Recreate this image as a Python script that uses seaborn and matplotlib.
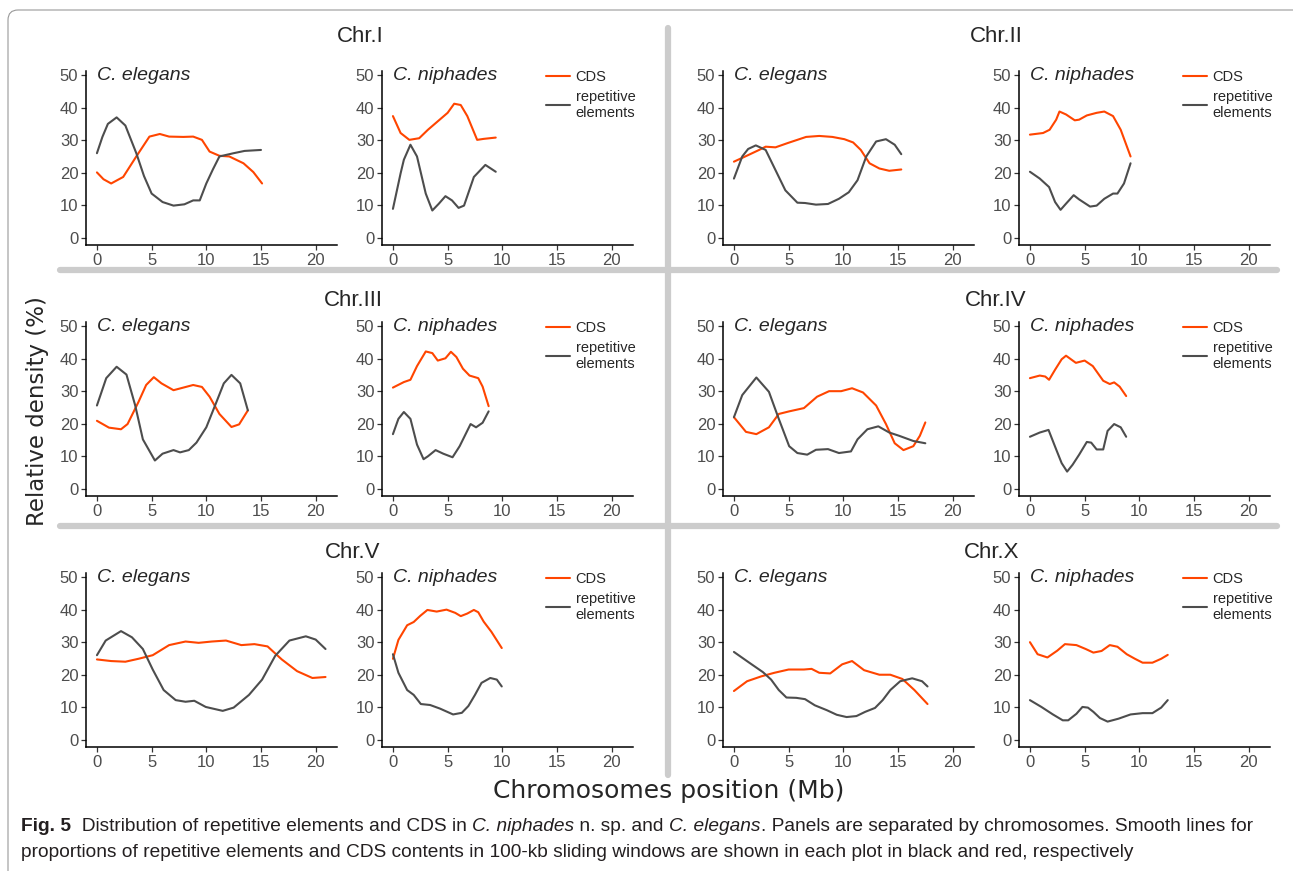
import matplotlib.pyplot as plt
import numpy as np
import pandas as pd
import seaborn as sns
from matplotlib.lines import Line2D
from matplotlib.patches import FancyBboxPatch

# ----- data (position in Mb, density in %) -----
ce1_cds_x = [0, 0.6, 1.3, 2.4, 3.6, 4.8, 5.75, 6.6, 7.9, 8.8, 9.6, 10.3, 11.2, 12.1, 13.4, 14.3, 15.1]
ce1_cds_y = [20.1, 18, 16.7, 18.7, 25, 31.1, 31.9, 31.1, 31, 31.1, 30.1, 26.5, 25.2, 25, 22.9, 20.2, 16.7]
ce1_rep_x = [0, 0.5, 1.0, 1.8, 2.6, 3.6, 4.3, 5.0, 6.0, 7.0, 8.0, 8.8, 9.4, 10.0, 10.6, 11.2, 12.5, 13.5, 15.0]
ce1_rep_y = [26, 31, 35, 37, 34.5, 26, 19, 13.6, 11, 9.9, 10.3, 11.5, 11.5, 16.7, 21, 25, 26, 26.7, 27]

cn1_cds_x = [0, 0.7, 1.5, 2.4, 3.2, 4.1, 5.0, 5.6, 6.2, 6.8, 7.7, 8.3, 9.4]
cn1_cds_y = [37.4, 32.2, 30.1, 30.6, 33.2, 35.8, 38.4, 41.2, 40.8, 37.4, 30.1, 30.4, 30.8]
cn1_rep_x = [0, 0.7, 1.0, 1.6, 2.2, 3.0, 3.6, 4.2, 4.8, 5.4, 6.0, 6.5, 7.4, 8.45, 9.4]
cn1_rep_y = [8.9, 19.8, 24, 28.6, 25, 13.6, 8.4, 10.5, 12.8, 11.5, 9.2, 9.9, 18.7, 22.4, 20.3]

ce2_cds_x = [0, 1.1, 2.3, 2.9, 3.8, 4.9, 6.6, 7.8, 9.0, 10.1, 10.9, 11.6, 12.4, 13.3, 14.2, 15.3]
ce2_cds_y = [23.4, 25.1, 27, 28, 27.8, 29.1, 31, 31.3, 31, 30.3, 29.3, 27, 22.9, 21.3, 20.6, 21]
ce2_rep_x = [0, 0.76, 1.3, 2.0, 2.9, 3.8, 4.7, 5.8, 6.5, 7.5, 8.6, 9.6, 10.5, 11.3, 12.1, 13.0, 13.9, 14.7, 15.3]
ce2_rep_y = [18.2, 25, 27.3, 28.4, 27, 20.8, 14.6, 10.8, 10.7, 10.2, 10.4, 12, 14, 17.7, 25, 29.6, 30.3, 28.6, 25.7]

cn2_cds_x = [0, 1.2, 1.8, 2.4, 2.7, 3.3, 4.1, 4.5, 5.2, 6.1, 6.8, 7.6, 8.3, 9.2]
cn2_cds_y = [31.7, 32.2, 33.2, 36.3, 38.8, 37.9, 36.1, 36.3, 37.6, 38.4, 38.8, 37.4, 33.2, 25]
cn2_rep_x = [0, 0.9, 1.75, 2.3, 2.8, 3.3, 4.0, 4.5, 5.5, 6.1, 6.8, 7.6, 8.0, 8.6, 9.2]
cn2_rep_y = [20.3, 18.2, 15.6, 11, 8.6, 10.5, 13.1, 11.8, 9.6, 9.9, 12, 13.6, 13.6, 16.7, 22.9]

ce3_cds_x = [0, 1.1, 2.2, 2.8, 3.8, 4.5, 5.2, 5.9, 7.0, 7.9, 8.8, 9.6, 10.3, 11.2, 12.3, 13.0, 13.8]
ce3_cds_y = [20.9, 18.8, 18.3, 19.9, 26.7, 31.9, 34.3, 32.4, 30.3, 31.1, 31.9, 31.3, 28.3, 23, 19, 19.8, 24.1]
ce3_rep_x = [0, 0.85, 1.8, 2.7, 3.5, 4.2, 5.3, 6.0, 7.0, 7.6, 8.4, 9.1, 10.0, 10.8, 11.6, 12.3, 13.1, 13.8]
ce3_rep_y = [25.6, 34, 37.5, 35.1, 25.6, 15.2, 8.7, 10.8, 11.9, 11.2, 11.9, 14.2, 18.9, 25.6, 32.4, 35, 32.4, 24.1]

cn3_cds_x = [0, 1.0, 1.6, 2.2, 3.0, 3.6, 4.1, 4.8, 5.3, 5.8, 6.4, 7.0, 7.8, 8.2, 8.75]
cn3_cds_y = [31.1, 32.8, 33.5, 37.7, 42.2, 41.7, 39.4, 40.1, 42.1, 40.5, 36.9, 34.8, 34, 31.4, 25.4]
cn3_rep_x = [0, 0.5, 1.0, 1.6, 2.2, 2.8, 3.2, 3.9, 4.6, 5.45, 6.1, 7.1, 7.6, 8.2, 8.75]
cn3_rep_y = [16.8, 21.5, 23.6, 21.5, 13.6, 9.1, 10, 11.9, 10.8, 9.7, 13.1, 19.9, 18.9, 20.3, 23.8]

ce4_cds_x = [0, 1.1, 2.05, 3.2, 4.1, 5.05, 6.4, 7.6, 8.7, 9.8, 10.8, 11.8, 13.0, 13.9, 14.7, 15.5, 16.4, 17.0, 17.5]
ce4_cds_y = [22, 17.5, 16.8, 18.9, 23, 23.8, 24.8, 28.3, 30, 30, 30.9, 29.6, 25.6, 19.9, 14, 11.9, 13.1, 16.3, 20.4]
ce4_rep_x = [0, 0.76, 2.05, 3.2, 4.1, 5.05, 5.8, 6.7, 7.5, 8.6, 9.6, 10.7, 11.3, 12.2, 13.2, 14.2, 15.1, 16.4, 17.5]
ce4_rep_y = [22, 28.8, 34.2, 29.8, 21.5, 13.1, 11, 10.5, 12, 12.2, 11, 11.5, 15.2, 18.3, 19.2, 17.3, 16.3, 14.7, 14]

cn4_cds_x = [0, 0.9, 1.4, 1.75, 2.3, 2.9, 3.3, 4.2, 5.0, 5.75, 6.7, 7.3, 7.7, 8.2, 8.8]
cn4_cds_y = [34, 34.8, 34.5, 33.5, 36.6, 39.8, 40.9, 38.7, 39.4, 37.7, 33.2, 32.2, 32.7, 31.4, 28.5]
cn4_rep_x = [0, 0.9, 1.7, 2.4, 2.9, 3.4, 3.9, 4.5, 5.2, 5.6, 6.1, 6.7, 7.1, 7.7, 8.3, 8.8]
cn4_rep_y = [16, 17.3, 18.1, 12.1, 7.9, 5.3, 7.4, 10.5, 14.4, 14.2, 12.1, 12.1, 17.8, 19.9, 18.9, 16]

ce5_cds_x = [0, 1.3, 2.6, 3.8, 5.1, 6.6, 8.1, 9.3, 10.5, 11.8, 13.2, 14.4, 15.6, 16.9, 18.3, 19.7, 20.9]
ce5_cds_y = [24.7, 24.2, 24, 24.9, 26, 29.1, 30.2, 29.8, 30.2, 30.5, 29.1, 29.4, 28.7, 24.7, 21.1, 19, 19.3]
ce5_rep_x = [0, 0.8, 2.2, 3.2, 4.2, 5.1, 6.1, 7.2, 8.1, 8.9, 9.95, 11.5, 12.5, 13.9, 15.1, 16.3, 17.6, 19.1, 20.0, 20.9]
ce5_rep_y = [26, 30.5, 33.4, 31.5, 27.9, 21.6, 15.3, 12.2, 11.7, 12, 10.1, 8.9, 9.9, 13.8, 18.5, 25.8, 30.5, 31.8, 30.8, 27.9]

cn5_cds_x = [0, 0.5, 1.3, 1.9, 2.5, 3.15, 4.0, 4.9, 5.7, 6.2, 6.8, 7.4, 7.8, 8.3, 9.0, 9.95]
cn5_cds_y = [24.9, 30.7, 35.2, 36.2, 38.1, 39.9, 39.4, 40, 39, 38, 38.8, 39.9, 39.2, 36.3, 33.2, 28.2]
cn5_rep_x = [0, 0.5, 1.3, 1.9, 2.55, 3.4, 4.3, 5.5, 6.3, 6.9, 7.5, 8.1, 8.9, 9.5, 9.95]
cn5_rep_y = [26.3, 20.6, 15.3, 13.8, 11, 10.7, 9.6, 7.8, 8.3, 10.4, 13.8, 17.5, 19, 18.5, 16.4]

cex_cds_x = [0, 1.2, 2.5, 3.7, 5.0, 6.4, 7.1, 7.8, 8.8, 9.9, 10.8, 11.9, 13.3, 14.3, 15.4, 16.5, 17.7]
cex_cds_y = [15, 18, 19.5, 20.6, 21.6, 21.6, 21.8, 20.6, 20.4, 23.2, 24.2, 21.4, 20, 20, 18.7, 15.3, 11]
cex_rep_x = [0, 1.4, 2.65, 3.4, 4.1, 4.8, 5.7, 6.5, 7.4, 8.5, 9.4, 10.3, 11.2, 12.0, 12.9, 13.6, 14.3, 15.2, 16.3, 17.2, 17.7]
cex_rep_y = [27, 23.7, 20.8, 18.5, 15.3, 13, 12.9, 12.5, 10.6, 9.1, 7.7, 7, 7.3, 8.6, 9.8, 12.2, 15.3, 18, 18.9, 18, 16.4]

cnx_cds_x = [0, 0.7, 1.6, 2.5, 3.2, 4.25, 5.1, 5.8, 6.55, 7.3, 8.0, 8.85, 9.6, 10.3, 11.2, 12.0, 12.6]
cnx_cds_y = [30, 26.3, 25.3, 27.4, 29.4, 29.1, 27.9, 26.8, 27.3, 29.1, 28.6, 26.3, 24.9, 23.7, 23.7, 24.9, 26.1]
cnx_rep_x = [0, 1.05, 2.1, 3.0, 3.5, 4.25, 4.8, 5.3, 5.8, 6.4, 7.1, 8.1, 9.2, 10.3, 11.2, 12.0, 12.6]
cnx_rep_y = [12.2, 10.1, 7.8, 6, 6, 8, 10.1, 9.9, 8.6, 6.7, 5.6, 6.5, 7.8, 8.2, 8.2, 9.9, 12.2]

chromosomes = ["Chr.I", "Chr.II", "Chr.III", "Chr.IV", "Chr.V", "Chr.X"]
species = ["C. elegans", "C. niphades"]
x_ticks = [0, 5, 10, 15, 20]
y_ticks = [0, 10, 20, 30, 40, 50]
series_names = ["CDS", "repetitive\nelements"]

# ----- style -----
ORANGE = "#FF4500"
GREY = "#4D4D4D"
sns.set_style("ticks")
plt.rcParams["font.family"] = ["Liberation Sans", "DejaVu Sans"]

W, H = 1293, 871
fig = plt.figure(figsize=(W / 100, H / 100), dpi=100)


def px_axes(left, top, width, height):
    return fig.add_axes([left / W, 1 - (top + height) / H, width / W, height / H])


col_left = [86, 382, 723, 1019]
row_top = [71, 322, 573]
title_pos = [(360, 36), (996, 36), (353, 300), (996, 300), (353, 552), (992, 552)]

pairs = [
    (ce1_cds_x, ce1_cds_y, ce1_rep_x, ce1_rep_y, cn1_cds_x, cn1_cds_y, cn1_rep_x, cn1_rep_y),
    (ce2_cds_x, ce2_cds_y, ce2_rep_x, ce2_rep_y, cn2_cds_x, cn2_cds_y, cn2_rep_x, cn2_rep_y),
    (ce3_cds_x, ce3_cds_y, ce3_rep_x, ce3_rep_y, cn3_cds_x, cn3_cds_y, cn3_rep_x, cn3_rep_y),
    (ce4_cds_x, ce4_cds_y, ce4_rep_x, ce4_rep_y, cn4_cds_x, cn4_cds_y, cn4_rep_x, cn4_rep_y),
    (ce5_cds_x, ce5_cds_y, ce5_rep_x, ce5_rep_y, cn5_cds_x, cn5_cds_y, cn5_rep_x, cn5_rep_y),
    (cex_cds_x, cex_cds_y, cex_rep_x, cex_rep_y, cnx_cds_x, cnx_cds_y, cnx_rep_x, cnx_rep_y),
]

for i, chrom in enumerate(chromosomes):
    row, half = i // 2, i % 2
    vals = pairs[i]
    for j, sp in enumerate(species):
        cx, cy, rx, ry = vals[4 * j:4 * j + 4]
        df = pd.DataFrame({
            "pos": list(cx) + list(rx),
            "density": list(cy) + list(ry),
            "type": [series_names[0]] * len(cx) + [series_names[1]] * len(rx),
        })
        ax = px_axes(col_left[2 * half + j], row_top[row], 251, 174)
        sns.lineplot(data=df, x="pos", y="density", hue="type", estimator=None,
                     palette={series_names[0]: ORANGE, series_names[1]: GREY},
                     linewidth=1.5, ax=ax, legend=(j == 1))
        ax.set_xlim(-1, 21.95)
        ax.set_ylim(-2.2, 51.25)
        ax.set_xticks(x_ticks)
        ax.set_yticks(y_ticks)
        ax.set_xlabel("")
        ax.set_ylabel("")
        sns.despine(ax=ax)
        for s in ["left", "bottom"]:
            ax.spines[s].set_linewidth(1.1)
            ax.spines[s].set_color("black")
        ax.tick_params(labelsize=12, length=3.5, width=0.9, color="#333333",
                       labelcolor=GREY, pad=2)
        ax.text(0, 50, sp, style="italic", fontsize=14, ha="left", va="center")
        if j == 1:
            handles, labels = ax.get_legend_handles_labels()
            ax.legend(handles, labels, frameon=False, loc="upper left",
                      bbox_to_anchor=(0.655, 1.005), borderpad=0, borderaxespad=0,
                      handlelength=1.6, handletextpad=0.4, labelspacing=0.4,
                      fontsize=10.5)
    tx, ty = title_pos[i]
    fig.text(tx / W, 1 - ty / H, chrom, fontsize=16, ha="center", va="center")

# separators between chromosome blocks
sep = dict(transform=fig.transFigure, color="#cccccc", lw=4.5, solid_capstyle="round")
fig.add_artist(Line2D([668 / W, 668 / W], [1 - 28 / H, 1 - 775 / H], **sep))
for yy in [270, 526]:
    fig.add_artist(Line2D([60 / W, 1277 / W], [1 - yy / H, 1 - yy / H], **sep))

# shared axis labels
fig.text(38 / W, 1 - 411 / H, "Relative density (%)", rotation=90, fontsize=16.5,
         family="DejaVu Sans", ha="center", va="center")
fig.text(669 / W, 1 - 791 / H, "Chromosomes position (Mb)", fontsize=18,
         family="DejaVu Sans", ha="center", va="center")

# caption with mixed font styles
renderer = fig.canvas.get_renderer()


def put_runs(x_px, y_px, runs, size):
    x = x_px
    for txt, kw in runs:
        t = fig.text(x / W, 1 - y_px / H, txt, fontsize=size, ha="left", va="center",
                     color="#231f20", **kw)
        x += t.get_window_extent(renderer).width


cap_size = 13.8
put_runs(21, 826, [
    ("Fig. 5", {"weight": "bold"}),
    ("  Distribution of repetitive elements and CDS in ", {}),
    ("C. niphades", {"style": "italic"}),
    (" n. sp. and ", {}),
    ("C. elegans", {"style": "italic"}),
    (". Panels are separated by chromosomes. Smooth lines for", {}),
], cap_size)
put_runs(21, 852, [
    ("proportions of repetitive elements and CDS contents in 100-kb sliding windows "
     "are shown in each plot in black and red, respectively", {}),
], cap_size)

# rounded frame around the figure
frame = FancyBboxPatch((0.08, -0.3), 13.2, 8.61 + 0.3, boxstyle="round,pad=0,rounding_size=0.1",
                       transform=fig.dpi_scale_trans, facecolor="none",
                       edgecolor="#999999", lw=0.8)
fig.add_artist(frame)

fig.savefig("out.png", dpi=100)
